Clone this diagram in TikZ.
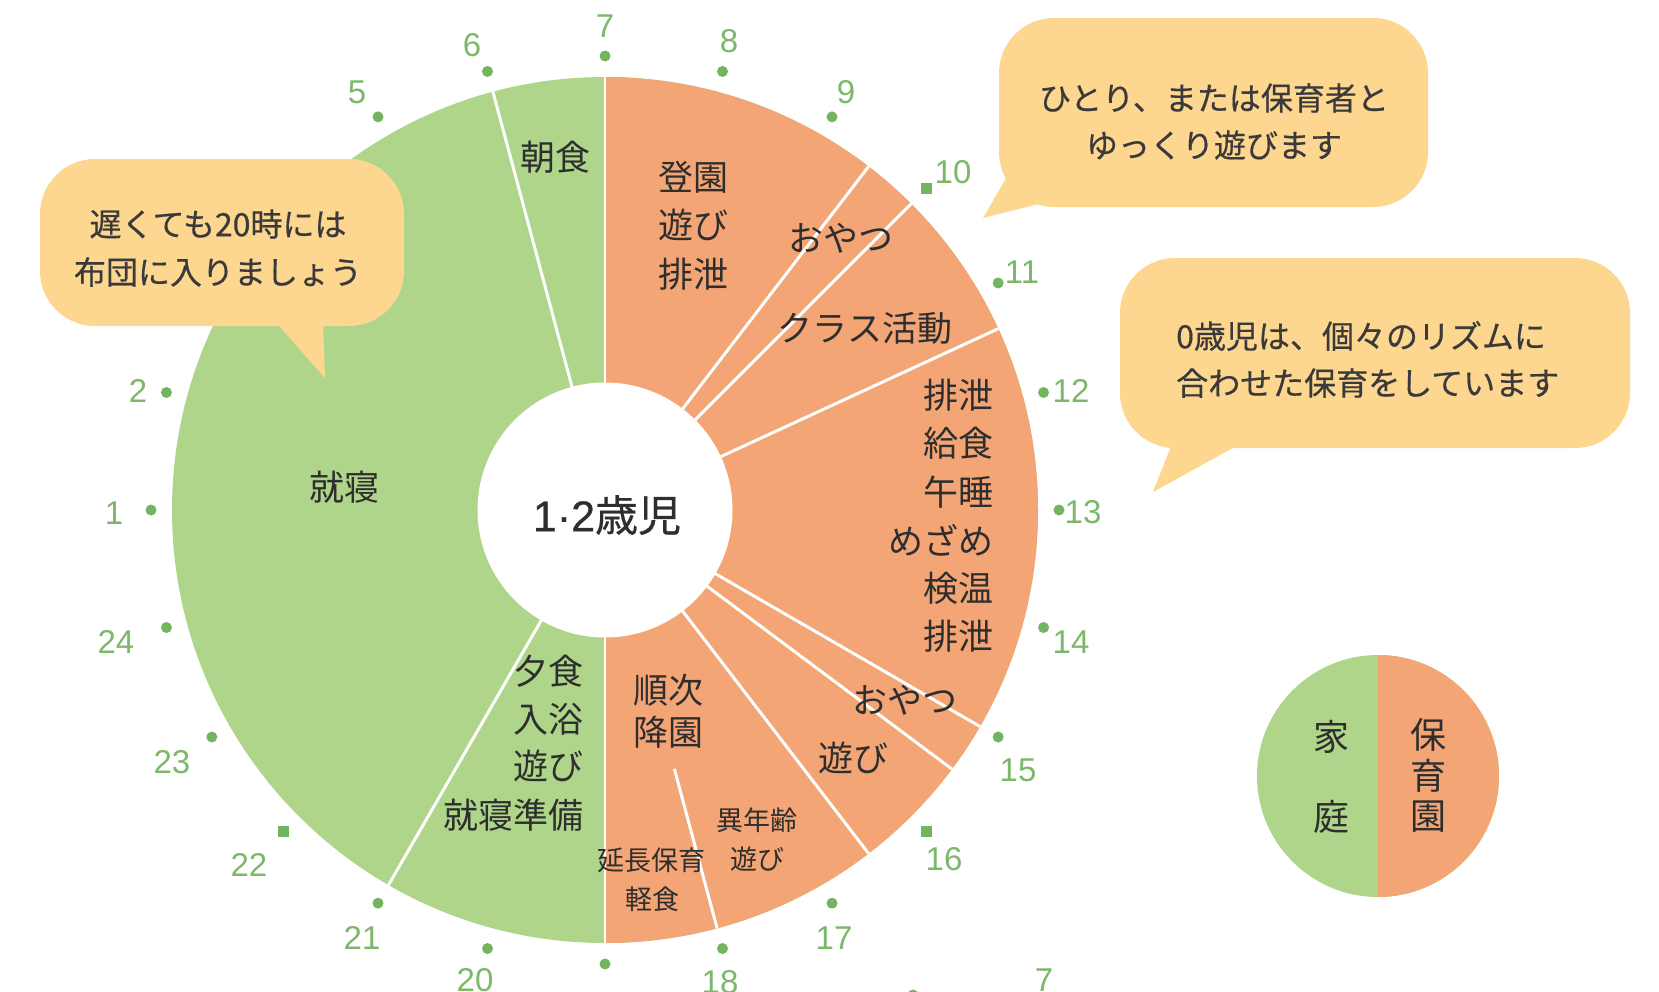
\documentclass[tikz,border=0pt]{standalone}
\usepackage{fontspec}
\setmainfont{Noto Sans CJK JP}
\newfontfamily\jp{Noto Sans CJK JP}
\newfontfamily\jpb[FakeBold=0.5]{Noto Sans CJK JP}
\newfontfamily\numf{Liberation Sans}
\newfontfamily\numb[FakeBold=0.5]{Liberation Sans}
\definecolor{pgreen}{HTML}{AED58A}
\definecolor{porange}{HTML}{F4A575}
\definecolor{bub}{HTML}{FDD690}
\definecolor{numg}{HTML}{7DB86A}
\definecolor{dotg}{HTML}{74B35F}
\definecolor{txt}{HTML}{2E2E2E}
\definecolor{btxt}{HTML}{3A3A3A}
\tikzset{
  lbl/.style={font=\jp\fontsize{35}{40}\selectfont, text=txt, inner sep=0pt},
  smalllbl/.style={font=\jp\fontsize{27}{30}\selectfont, text=txt, inner sep=0pt},
  hr/.style={font=\numf\fontsize{33}{35}\selectfont, text=numg, inner sep=0pt},
  sepline/.style={draw=white, line width=3pt},
  bubble/.style={fill=bub, rounded corners=55pt},
  btext/.style={font=\jpb\fontsize{32}{47}\selectfont, text=btxt, inner sep=0pt},
  legtext/.style={font=\jp\fontsize{36}{40}\selectfont, text=txt, inner sep=0pt},
}
\begin{document}
\begin{tikzpicture}[x=1pt,y=-1pt]
\useasboundingbox (0,0) rectangle (1659,991);
\clip (0,0) rectangle (1659,991);

% ---------- main pie ----------
\begin{scope}[shift={(605,510)}]
  \fill[pgreen] (0,0) circle[radius=433];
  \begin{scope}
    \clip (0,-450) rectangle (450,450);
    \fill[porange] (0,0) circle[radius=433];
  \end{scope}
  % boundaries
  \draw[draw=white, line width=2pt] (-90:127) -- (-90:433);
  \draw[draw=white, line width=2pt] (90:127) -- (90:433);
  \foreach \h/\ra in {6/127, 21/127, 9.5/127, 10/127, 11.35/127, 15/127, 15.45/127, 16.5/127, 18/268}
    \draw[sepline] ({15*\h-195}:\ra) -- ({15*\h-195}:433);
  \fill[white] (0,0) circle[radius=127.5];
  % hour dots
  \foreach \h in {1,2,5,6,7,8,9,11,12,13,14,15,17,18,19,20,21,23,24}
    \fill[dotg] ({15*\h-195}:454) circle[radius=5.5];
  \foreach \h in {10,16,22}
    \fill[dotg] ({15*\h-195}:454) ++(-5.5,-5.5) rectangle ++(11,11);
\end{scope}

% centre label
\node[font=\jpb\fontsize{43}{46}\selectfont, text=txt, inner sep=0pt] (center) at (607,515) {{\numb 1·2}歳児};

% ---------- pie labels ----------
\node[lbl] (l1) at (555,157) {朝食};
\node[lbl] (l2a) at (693,177) {登園};
\node[lbl] (l2b) at (693,225) {遊び};
\node[lbl] (l2c) at (693,274) {排泄};
\node[lbl] (l3) at (841,238) {おやつ};
\node[lbl] (l4) at (865,328) {クラス活動};
\node[lbl, anchor=east] (l5a) at (994,395) {排泄};
\node[lbl, anchor=east] (l5b) at (994,443) {給食};
\node[lbl, anchor=east] (l5c) at (994,492) {午睡};
\node[lbl, anchor=east] (l5d) at (994,540) {めざめ};
\node[lbl, anchor=east] (l5e) at (994,588) {検温};
\node[lbl, anchor=east] (l5f) at (994,636) {排泄};
\node[lbl] (l6) at (905,700) {おやつ};
\node[lbl] (l7) at (853,758) {遊び};
\node[lbl] (l8a) at (668,690) {順次};
\node[lbl] (l8b) at (668,732) {降園};
\node[smalllbl] (l9a) at (757,820) {異年齢};
\node[smalllbl] (l9b) at (757,859) {遊び};
\node[smalllbl] (l10a) at (651,860) {延長保育};
\node[smalllbl] (l10b) at (652,899) {軽食};
\node[lbl, anchor=east] (l11a) at (584,671) {夕食};
\node[lbl, anchor=east] (l11b) at (584,719) {入浴};
\node[lbl, anchor=east] (l11c) at (584,766) {遊び};
\node[lbl, anchor=east] (l11d) at (584,815) {就寝準備};
\node[lbl] (l12) at (344,487) {就寝};

% ---------- hour numbers ----------
\node[hr] (n7) at (605,26) {7};
\node[hr] (n8) at (729,41) {8};
\node[hr] (n9) at (846,92) {9};
\node[hr] (n10) at (953,172) {10};
\node[hr] (n11) at (1022,272) {11};
\node[hr] (n12) at (1071,391) {12};
\node[hr] (n13) at (1083,512) {13};
\node[hr] (n14) at (1071,642) {14};
\node[hr] (n15) at (1018,770) {15};
\node[hr] (n16) at (944,859) {16};
\node[hr] (n17) at (834,938) {17};
\node[hr] (n18) at (720,982) {18};
\node[hr] (n19) at (605,1004) {19};
\node[hr] (n20) at (475,980) {20};
\node[hr] (n21) at (362,938) {21};
\node[hr] (n22) at (249,865) {22};
\node[hr] (n23) at (172,762) {23};
\node[hr] (n24) at (116,642) {24};
\node[hr] (n1) at (114,513) {1};
\node[hr] (n2) at (138,391) {2};
\node[hr] (n5) at (357,92) {5};
\node[hr] (n6) at (472,45) {6};
% remnants of the next chart (cut off at the bottom)
\node[hr] (m7) at (1044,980) {7};
\node[hr] (m8) at (1169,1004) {8};
\fill[dotg] (913,995) circle[radius=5.5];

% ---------- callouts ----------
\fill[bubble] (40,159) rectangle (404,326);
\fill[bub] (272,318) -- (325,378) -- (323,318) -- cycle;
\node[btext] (b1a) at (218,224) {遅くても20時には};
\node[btext] (b1b) at (218,272) {布団に入りましょう};

\fill[bubble] (999,18) rectangle (1428,207);
\fill[bub] (1012,168) -- (983,218) -- (1062,198) -- cycle;
\node[btext] (b2a) at (1214,98) {ひとり、または保育者と};
\node[btext] (b2b) at (1214,145) {ゆっくり遊びます};

\fill[bubble] (1120,258) rectangle (1630,448);
\fill[bub] (1175,436) -- (1153,492) -- (1240,444) -- cycle;
\node[btext, anchor=west] (b3a) at (1176,336) {0歳児は、個々のリズムに};
\node[btext, anchor=west] (b3b) at (1176,383) {合わせた保育をしています};

% ---------- legend ----------
\begin{scope}[shift={(1378,776)}]
  \fill[pgreen] (0,0) circle[radius=121];
  \begin{scope}
    \clip (0,-130) rectangle (130,130);
    \fill[porange] (0,0) circle[radius=121];
  \end{scope}
\end{scope}
\node[legtext] (g1) at (1331,737) {家};
\node[legtext] (g2) at (1331,817) {庭};
\node[legtext] (g3) at (1428,735) {保};
\node[legtext] (g4) at (1428,776) {育};
\node[legtext] (g5) at (1428,817) {園};
\end{tikzpicture}
\end{document}
